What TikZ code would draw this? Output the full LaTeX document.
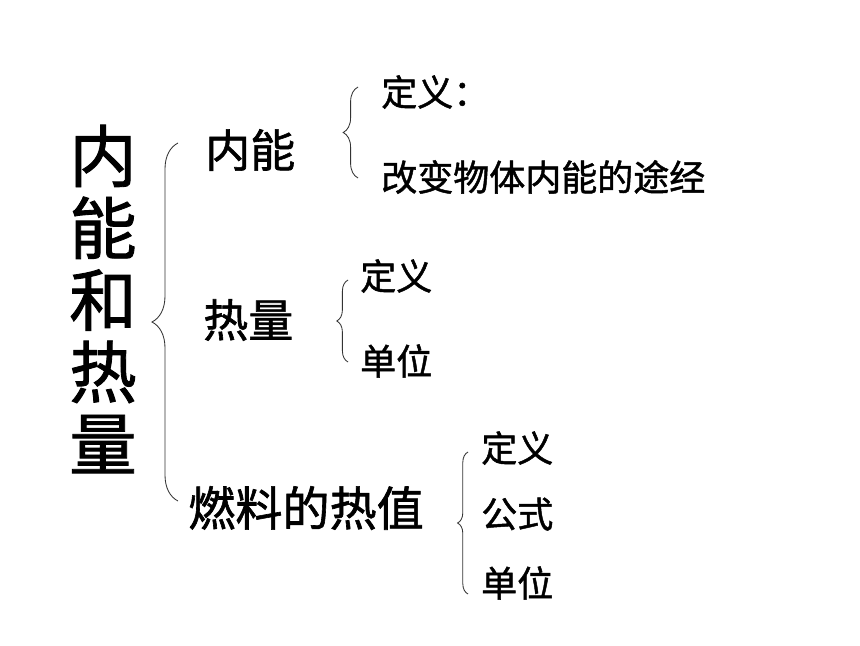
\documentclass[tikz,border=0pt]{standalone}
\usepackage{fontspec}
\newfontfamily\cjk[FakeBold=1.3]{Noto Sans CJK SC}
\usetikzlibrary{positioning}
\usetikzlibrary{decorations.pathreplacing}

\begin{document}
\begin{tikzpicture}[x=0.025cm, y=-0.025cm, font=\cjk,
  item/.style={anchor=west, inner sep=0pt},
  big/.style={font=\fontsize{48}{51.2}\selectfont\cjk},
  mid/.style={font=\fontsize{32}{36}\selectfont\cjk},
  small/.style={font=\fontsize{25.6}{30}\selectfont\cjk},
  curly/.style={draw=black!80, line width=0.6pt,
    decorate, decoration={brace, amplitude=#1}}]
  % Page frame (860 x 645 px)
  \useasboundingbox (0,0) rectangle (860,645);

  % Title, set vertically
  \node[big, align=center, inner sep=0pt] (title) at (103,299) {内\\能\\和\\热\\量};

  % Second level
  \node[item, mid] (neineng) at (205,150) {内能};
  \node[item, mid] (reliang) at (203,320) {热量};
  \node[item, mid, font=\fontsize{33.5}{36}\selectfont\cjk] (rezhi) at (188,508) {燃料的热值};

  % Third level: internal energy
  \node[item, small] (dy1) at (381,92) {定义：};
  \node[item, small] (tujing) at (381,177) {改变物体内能的途经};

  % Third level: heat
  \node[item, small] (dy2) at (360,276) {定义};
  \node[item, small] (dw2) at (360,361) {单位};

  % Third level: heat value of fuel
  \node[item, small] (dy3) at (481,448) {定义};
  \node[item, small] (gs3) at (481,514) {公式};
  \node[item, small] (dw3) at (481,583) {单位};

  % Brace ends
  \coordinate (b0top) at (178,143);
  \coordinate (b0bot) at (178,501);
  \coordinate (b1top) at (358,87);
  \coordinate (b1bot) at (358,178);
  \coordinate (b2top) at (348,280);
  \coordinate (b2bot) at (348,362);
  \coordinate (b3top) at (468,452);
  \coordinate (b3bot) at (468,594);

  % Braces
  \draw[curly=0.65cm] (b0bot) -- (b0top);
  \draw[curly=0.37cm] (b1bot) -- (b1top);
  \draw[curly=0.28cm] (b2bot) -- (b2top);
  \draw[curly=0.26cm] (b3bot) -- (b3top);

\end{tikzpicture}
\end{document}
